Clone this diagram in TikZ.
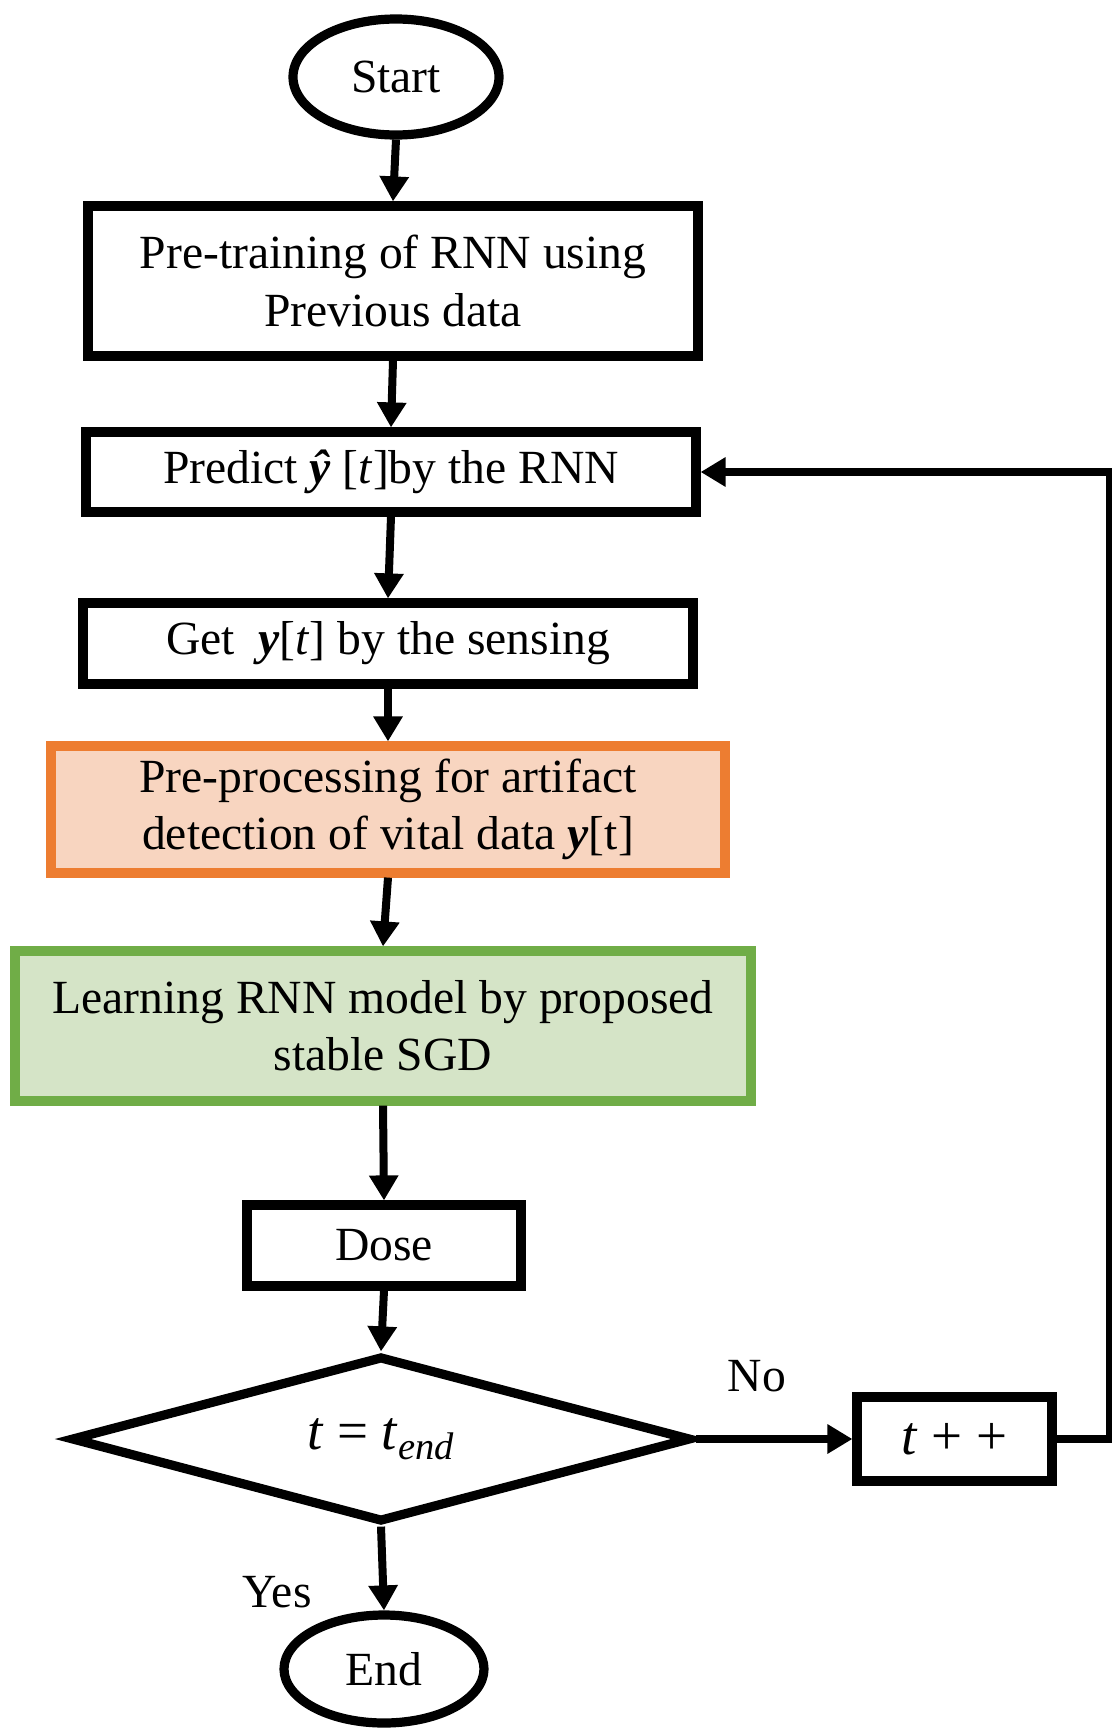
\documentclass[tikz,border=0pt]{standalone}
\usepackage{fontspec}
\setmainfont{Liberation Serif}
\usetikzlibrary{arrows.meta,shapes.geometric}
\definecolor{orgborder}{HTML}{ED7D31}
\definecolor{orgfill}{HTML}{F8D5C0}
\definecolor{grnborder}{HTML}{70AD47}
\definecolor{grnfill}{HTML}{D5E4C7}
\tikzset{
  base/.style={draw=black, line width=4.6pt, inner sep=0pt, align=center,
    font=\fontsize{23.8pt}{28.6pt}\selectfont},
  procbox/.style={base, rectangle},
  termnode/.style={base, ellipse},
  decnode/.style={base, diamond, aspect=3.7},
  conn/.style={line width=4pt, -{Triangle[length=12.5pt,width=14pt]}},
  lbl/.style={inner sep=0pt, font=\fontsize{23.8pt}{28.6pt}\selectfont},
  mathtxt/.style={font=\fontsize{27.5pt}{32pt}\selectfont}
}
\begin{document}
\begin{tikzpicture}[x=0.5pt,y=-0.5pt]
\useasboundingbox (0,0) rectangle (1112,1729);
\node[termnode, minimum width=103pt, minimum height=58pt] (start) at (396,77) {Start};
\node[procbox, minimum width=305pt, minimum height=75pt] (pre) at (393,281) {Pre-training of RNN using\\Previous data};
\node[procbox, minimum width=305pt, minimum height=40pt] (pred) at (391,472) {Predict \textbf{\textit{ŷ}} [\textit{t}]by the RNN};
\node[procbox, minimum width=305pt, minimum height=40.5pt] (get) at (388,643.5) {Get \ \textbf{\textit{y}}[\textit{t}] by the sensing};
\node[procbox, draw=orgborder, fill=orgfill, minimum width=337pt, minimum height=63.5pt] (proc) at (388,809.5) {Pre-processing for artifact\\detection of vital data \textbf{\textit{y}}[t]};
\node[procbox, draw=grnborder, fill=grnfill, minimum width=368pt, minimum height=75pt] (learn) at (383,1026) {Learning RNN model by proposed\\stable SGD};
\node[procbox, minimum width=137pt, minimum height=40.5pt] (dose) at (384,1245.5) {Dose};
\node[decnode, mathtxt, minimum width=310pt, minimum height=83pt] (dec) at (381,1439) {\textit{t} = \textit{t}\textsubscript{\textit{end}}};
\node[procbox, mathtxt, minimum width=97.5pt, minimum height=42pt] (inc) at (954.5,1439) {\textit{t} + +};
\node[termnode, minimum width=100pt, minimum height=54pt] (stop) at (384,1669) {End};
\node[lbl] (no) at (757,1376) {No};
\node[lbl] (yes) at (277,1592) {Yes};
\coordinate (fbA) at (1110,1439);
\coordinate (fbB) at (1110,472);
\draw[conn] (start.south) -- (pre.north);
\draw[conn] (pre.south) -- (pred.north);
\draw[conn] (pred.south) -- (get.north);
\draw[conn] (get.south) -- (proc.north);
\draw[conn] (proc.south) -- (learn.north);
\draw[conn] (learn.south) -- (dose.north);
\draw[conn] (dose.south) -- (dec.north);
\draw[conn] (dec.south) -- (stop.north);
\draw[conn] (dec.east) -- (inc.west);
\draw[conn] (inc.east) -- (fbA) -- (fbB) -- (pred.east);
\end{tikzpicture}
\end{document}
